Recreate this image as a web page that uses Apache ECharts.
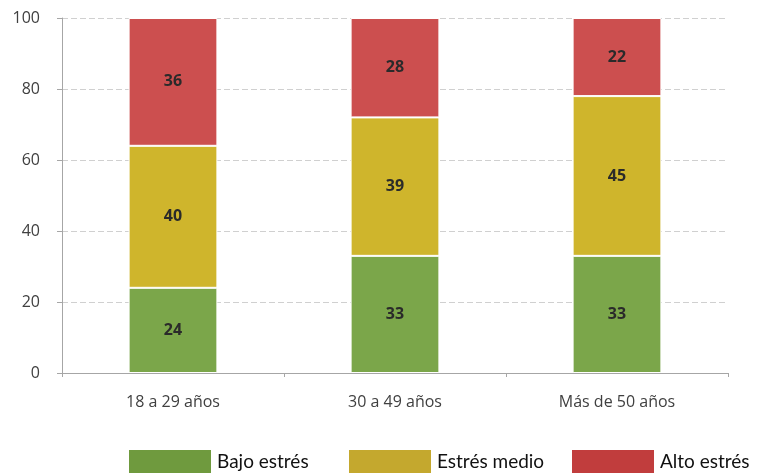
<!DOCTYPE html>
<html><head><meta charset="utf-8">
<script src="https://cdn.jsdelivr.net/npm/echarts@6/dist/echarts.min.js"></script>
<style>html,body{margin:0;padding:0;background:#fff}#c{width:761px;height:473px}</style>
</head><body><div id="c"></div>
<script>
const categories = ['18 a 29 años', '30 a 49 años', 'Más de 50 años'];
const bajo = [24, 33, 33];
const medio = [40, 39, 45];
const alto = [36, 28, 22];
const seriesNames = ['Bajo estrés', 'Estrés medio', 'Alto estrés'];
const yTicks = [0, 20, 40, 60, 80, 100];

const barColors = ['#7ba64a', '#cfb52c', '#cc4f4f'];
const legendColors = ['#6f9a3e', '#c4a82e', '#c13d3d'];
const legendLeft = [127, 347, 570];
const font = 'Open Sans';

const chart = echarts.init(document.getElementById('c'));
function mk(name, data, i) {
  return {
    name, type: 'bar', stack: 's', data, barWidth: '40%',
    itemStyle: { color: barColors[i], borderColor: '#ffffff', borderWidth: 1 },
    label: { show: true, position: 'inside', color: '#2a2a2a', fontFamily: font, fontSize: 16, fontWeight: 'bold' }
  };
}
chart.setOption({
  animation: false,
  textStyle: { fontFamily: font },
  grid: { left: 62, right: 33, top: 18, bottom: 100 },
  legend: seriesNames.map((n, i) => ({
    top: 448, left: legendLeft[i], padding: 0, itemWidth: 84, itemHeight: 25, icon: 'rect',
    textStyle: { fontSize: 19, color: '#111', fontFamily: 'Lato', padding: [4, 0, 0, 0] },
    data: [{ name: n, itemStyle: { color: legendColors[i] } }]
  })),
  xAxis: {
    type: 'category', data: categories,
    axisLine: { lineStyle: { color: '#a6a6a6' } },
    axisTick: { show: true, length: 4, lineStyle: { color: '#a6a6a6' } },
    axisLabel: { color: '#404040', fontSize: 16, margin: 21 }
  },
  yAxis: {
    type: 'value', min: 0, max: 100, interval: 20,
    axisLine: { show: true, lineStyle: { color: '#a6a6a6' } },
    axisTick: { show: true, length: 5, lineStyle: { color: '#a6a6a6' } },
    axisLabel: { color: '#404040', fontSize: 16, margin: 22, formatter: v => yTicks.includes(v) ? String(v) : '' },
    splitLine: { lineStyle: { color: '#d0d0d0', type: [6, 3] } }
  },
  series: [mk(seriesNames[0], bajo, 0), mk(seriesNames[1], medio, 1), mk(seriesNames[2], alto, 2)]
});
</script></body></html>
